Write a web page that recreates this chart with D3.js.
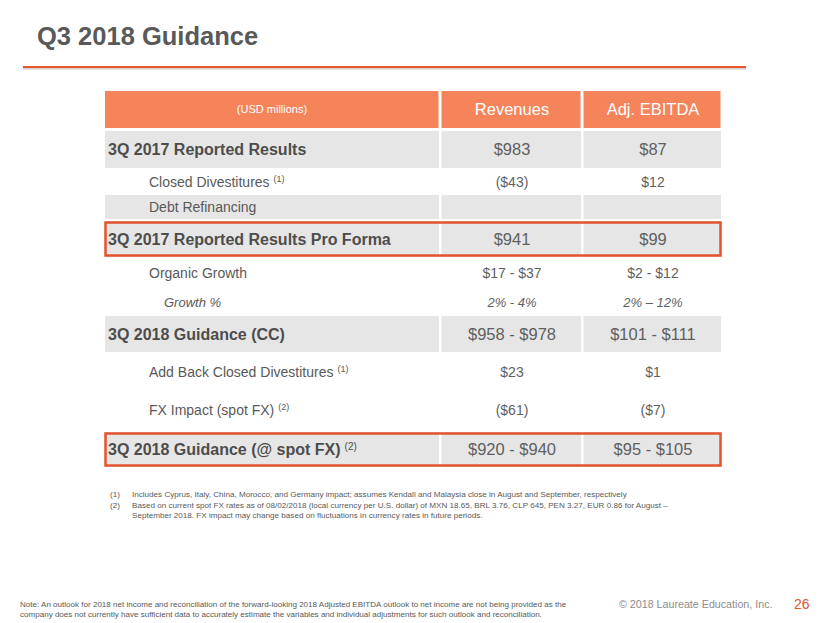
<!DOCTYPE html>
<html><head><meta charset="utf-8">
<script src="https://cdn.jsdelivr.net/npm/d3@7"></script>
<style>
html,body{margin:0;padding:0;background:#fff;}
svg{display:block;font-family:"Liberation Sans",Arial,sans-serif;}
</style></head>
<body>
<svg id="c" width="830" height="623"></svg>
<script>
// ---- data ----
const title = "Q3 2018 Guidance";
const headers = ["(USD millions)", "Revenues", "Adj. EBITDA"];
const rowLabels = ["3Q 2017 Reported Results", "Closed Divestitures", "Debt Refinancing",
  "3Q 2017 Reported Results Pro Forma", "Organic Growth", "Growth %",
  "3Q 2018 Guidance (CC)", "Add Back Closed Divestitures", "FX Impact (spot FX)",
  "3Q 2018 Guidance (@ spot FX)"];
const rowNotes = ["", "(1)", "", "", "", "", "", "(1)", "(2)", "(2)"];
const revenues = ["$983", "($43)", "", "$941", "$17 - $37", "2% - 4%", "$958 - $978", "$23", "($61)", "$920 - $940"];
const ebitda = ["$87", "$12", "", "$99", "$2 - $12", "2% \u2013 12%", "$101 - $111", "$1", "($7)", "$95 - $105"];
const rowKind = ["total", "item", "item", "total", "item", "pct", "total", "item", "item", "total"];
const rowShaded = [true, false, true, true, false, false, true, false, false, true];
const rowBoxed = [false, false, false, true, false, false, false, false, false, true];
const footnotes = [
  ["(1)", "Includes Cyprus, Italy, China, Morocco, and Germany impact; assumes Kendall and Malaysia close in August and September, respectively"],
  ["(2)", "Based on current spot FX rates as of 08/02/2018 (local currency per U.S. dollar) of MXN 18.65, BRL 3.76, CLP 645, PEN 3.27, EUR 0.86 for August \u2013"],
  ["", "September 2018. FX impact may change based on fluctuations in currency rates in future periods."]
];
const noteLines = [
  "Note: An outlook for 2018 net income and reconciliation of the forward-looking 2018 Adjusted EBITDA outlook to net income are not being provided as the",
  "company does not currently have sufficient data to accurately estimate the variables and individual adjustments for such outlook and reconciliation."
];
const copyright = "\u00a9 2018 Laureate  Education,  Inc.";
const pageNum = "26";

// ---- layout ----
const rowHeights = [37, 24, 24, 36, 30, 28, 36, 39, 38, 35];
const rowGaps =    [2, 1, 2, 1, 0, 0, 0, 0, 3, 0];
const headerTop = 91, headerH = 37;
const colEdges = [105, 440, 582, 722];
const orange = "#F5845B", boxOrange = "#E4532B", gray = "#E6E6E6";

const svg = d3.select("#c");

// Title
svg.append("text").attr("x", 37).attr("y", 45)
  .attr("font-size", 25.5).attr("font-weight", "bold").attr("fill", "#595959")
  .text(title);
svg.append("line").attr("x1", 23).attr("x2", 746).attr("y1", 68.5).attr("y2", 68.5)
  .attr("stroke", "#cfcfcf").attr("stroke-width", 2);
svg.append("line").attr("x1", 23).attr("x2", 746).attr("y1", 67).attr("y2", 67)
  .attr("stroke", "#E8582C").attr("stroke-width", 2.2);

// Column scale
const x = d3.scaleOrdinal().domain([0, 1, 2]).range(colEdges.slice(0, 3));
const colW = i => colEdges[i + 1] - colEdges[i];

// Row positions
let y0 = headerTop + headerH + 3;
const rowY = [];
rowHeights.forEach((h, i) => { rowY.push(y0); y0 += h + rowGaps[i]; });

// Header
const hdr = svg.append("g");
headers.forEach((t, i) => {
  hdr.append("rect").attr("x", x(i) + (i ? 1.5 : 0)).attr("y", headerTop)
    .attr("width", colW(i) - (i ? 1.5 : 0) - 1.5).attr("height", headerH).attr("fill", orange);
  hdr.append("text").attr("x", i === 0 ? 272 : x(i) + colW(i) / 2 + 1).attr("y", headerTop + headerH / 2)
    .attr("dy", "0.36em").attr("text-anchor", "middle").attr("fill", "#fff")
    .attr("font-size", i === 0 ? 11 : 16.5).text(t);
});

// Rows
const rows = svg.append("g").selectAll("g").data(rowLabels).join("g")
  .attr("transform", (d, i) => `translate(0,${rowY[i]})`);

rows.each(function(d, i) {
  const g = d3.select(this);
  const h = rowHeights[i];
  if (rowShaded[i]) {
    [0, 1, 2].forEach(c => {
      g.append("rect").attr("x", x(c) + (c ? 1.5 : 0)).attr("y", 0)
        .attr("width", colW(c) - (c ? 1.5 : 0) - 1).attr("height", h).attr("fill", gray);
    });
  }
  const kind = rowKind[i];
  const cy = h / 2;
  const lab = g.append("text").attr("y", cy).attr("dy", "0.36em");
  if (kind === "total") {
    lab.attr("x", 108).attr("font-size", 16).attr("font-weight", "bold").attr("fill", "#4d4d4d");
  } else if (kind === "pct") {
    lab.attr("x", 164).attr("font-size", 13).attr("font-style", "italic").attr("fill", "#595959");
  } else {
    lab.attr("x", 149).attr("font-size", 14).attr("fill", "#595959");
  }
  lab.append("tspan").text(d);
  if (rowNotes[i]) {
    lab.append("tspan").attr("font-size", kind === "total" ? 10 : 9).attr("font-weight", "normal")
      .attr("dy", "-0.55em").attr("dx", 4).text(rowNotes[i]);
  }
  [revenues[i], ebitda[i]].forEach((v, k) => {
    const c = k + 1;
    const t = g.append("text").attr("x", x(c) + colW(c) / 2 + 1).attr("y", cy).attr("dy", "0.36em")
      .attr("text-anchor", "middle").attr("fill", "#5f5f5f").text(v);
    if (kind === "total") t.attr("font-size", 16.5);
    else if (kind === "pct") t.attr("font-size", 13).attr("font-style", "italic");
    else t.attr("font-size", 14);
  });
  if (rowBoxed[i]) {
    g.append("rect").attr("x", colEdges[0] + 0.5).attr("y", 1.5)
      .attr("width", colEdges[3] - colEdges[0] - 2).attr("height", h - 3)
      .attr("fill", "none").attr("stroke", boxOrange).attr("stroke-width", 2.5);
  }
});

// Footnotes
const fn = svg.append("g").attr("font-size", 8.1).attr("fill", "#595959");
footnotes.forEach((f, i) => {
  const yy = 497 + i * 10.5;
  fn.append("text").attr("x", 110).attr("y", yy).text(f[0]);
  fn.append("text").attr("x", 132).attr("y", yy).text(f[1]);
});

// Bottom note
const nt = svg.append("g").attr("font-size", 8.05).attr("fill", "#595959");
noteLines.forEach((t, i) => nt.append("text").attr("x", 20).attr("y", 607 + i * 10).text(t));
svg.append("text").attr("x", 619).attr("y", 608).attr("font-size", 10.7).attr("fill", "#8c8c8c").text(copyright);
svg.append("text").attr("x", 794).attr("y", 609).attr("font-size", 14).attr("fill", "#E4532B").text(pageNum);
</script>
</body></html>
